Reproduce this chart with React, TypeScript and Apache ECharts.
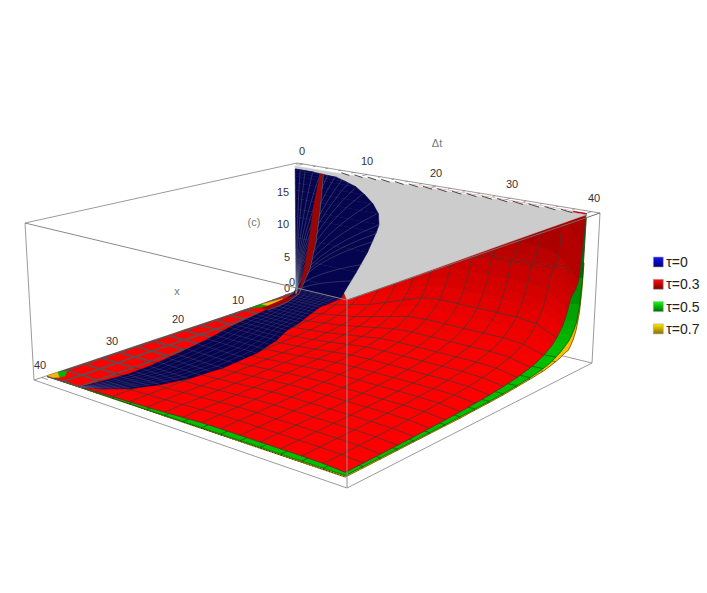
import React, { useEffect, useRef } from "react";
import * as echarts from "echarts";

type P3 = number[];
type Prim = { pts: P3[]; fill?: string; stroke?: string; width?: number; dash?: number[] };

// ---- values ----
const meshT = [0, 2.5, 5, 7.5, 10, 12.5, 15, 17.5, 20, 22.5, 25, 27.5, 30, 32.5, 35, 37.5, 40];
const gridX = [0.05, 0.2, 0.5, 1, 1.5, 2, 2.5, 3, 3.5, 4, 5, 6, 7.5, 8.75, 10, 12.5, 15, 17.5, 20, 22.5, 25, 27.5, 30, 32.5, 35, 37.5, 40];

const redFactor = [0.02, 0.05, 0.1, 0.2, 0.3, 0.4, 0.5, 0.65, 0.8, 0.95, 1, 1, 1, 1, 1, 0.95, 0.75];
const redProfile = [35, 25.5, 20, 14.5, 13.2, 12.6, 12, 10, 8.6, 7.5, 6, 5, 4, 3.4, 3, 2.4, 2, 1.7, 1.5, 1.33, 1.2, 1.09, 1, 0.92, 0.86, 0.8, 0.75];
const greenFactor = [0, 0.06, 0.12, 0.19, 0.25, 0.31, 0.37, 0.44, 0.5, 0.56, 0.62, 0.69, 0.75, 0.81, 0.87, 0.94, 1];
const greenProfile = [19, 11, 7.5, 5.4, 4.5, 3.8, 3.3, 3, 2.7, 2.4, 2, 1.6, 1.3, 1.1, 0.95, 0.75, 0.6, 0.5, 0.43, 0.38, 0.33, 0.3, 0.27, 0.25, 0.23, 0.21, 0.2];
const yellowFactor = greenFactor;
const yellowProfile = [13, 9.5, 6.5, 4.4, 3.3, 2.6, 2.1, 2, 1.85, 1.65, 1.4, 1.2, 0.95, 0.85, 0.75, 0.6, 0.45, 0.36, 0.3, 0.22, 0.2, 0.18, 0.15, 0.12, 0.09, 0.07, 0.05];

// blue surface: near border and far border, from x=40 along the floor and up the wall
const blueOuterT = [5, 7.2, 9.3, 10.8, 11.8, 12.2, 11.7, 10.4, 8.9, 8.1, 7, 6, 6.2, 7.2, 8, 9.6, 11.3, 12.6, 13, 12.9, 12.1, 10.9, 9.5, 8, 6.6, 3, 0];
const blueInnerT = [5, 5.2, 5.5, 5.9, 5.8, 5.2, 4.2, 3.1, 2.5, 2, 1.3, 0.5, 0.1, 0, 0, 0, 0, 0, 0, 0, 0, 0, 0, 0, 0, 0, 0];
const blueX = [40, 38.8, 37, 34.2, 31, 26.4, 20.5, 15.8, 12.3, 9.1, 6, 3, 1, 0.5, 0.5, 0.5, 0.5, 0.5, 0.5, 0.5, 0.5, 0.5, 0.5, 0.5, 0.5, 0.5, 0.5];
const blueZ = [0, 0, 0, 0, 0, 0, 0, 0, 0, 0, 0, 0, 0.2, 0.9, 2.4, 5.3, 8.6, 11.8, 13, 14.6, 15.9, 17, 18, 18.5, 18.9, 19.1, 19.1];
const BAND_END = 13;
const blueFanT = [0.8, 1.6, 2.8, 4, 5.2, 6.3, 7.4, 8.4, 9.4, 10.4, 11.7, 12.6, 13, 12.7, 12.2, 10.6, 9];
const blueFanZ = [19, 19, 19, 19, 19, 18.9, 18.7, 18.4, 17.8, 17, 15.9, 14.5, 13, 11.7, 10.4, 6.7, 3.9];

// dark red sliver on the blue wall
const sliverLeftT = [1, 0.7, 0.4, 1.4, 2.2, 2.9, 4];
const sliverRightT = [2, 1.6, 0.4, 2.2, 3.2, 3.9, 4.4];
const sliverX = [8, 4, 0.5, 0.5, 0.5, 0.5, 0.5];
const sliverZ = [0.05, 0.05, 0.1, 4.3, 8.6, 13.8, 19];

// wavy mesh line at x=2.5
const wavyT = [27.2, 28.8, 29.5, 30.1, 30.8, 31.4, 32, 32.7, 33.2, 34.2, 35.1, 35.9, 36.8, 37.4, 37.8, 39, 39.6, 40];
const wavyZ = [11.6, 12, 12.5, 12.9, 12.1, 12.6, 12.1, 12.5, 12.2, 12.8, 12.1, 12.9, 12.3, 13.1, 12.5, 13.1, 12.4, 12.3];

const hatchT = [7, 9, 11, 13, 15, 17, 19, 21, 23, 25, 27, 29, 31, 33, 35, 37];

const tMinor = [0, 2, 4, 6, 8, 10, 12, 14, 16, 18, 20, 22, 24, 26, 28, 30, 32, 34, 36, 38, 40];
const xMajor = [0, 10, 20, 30, 40];

const legendNames = ["τ=0", "τ=0.3", "τ=0.5", "τ=0.7"];
const legendTop = ["#1414ff", "#ff1010", "#10ff10", "#ffe800"];
const legendBottom = ["#00006a", "#7a0000", "#006a00", "#8a6a00"];

const tLabels = ["0", "10", "20", "30", "40"];
const tLabelX = [302, 367, 436, 512, 594];
const tLabelY = [151, 161, 173, 184, 198];
const xLabels = ["0", "10", "20", "30", "40"];
const xLabelX = [287, 238, 178, 112, 40];
const xLabelY = [288, 300, 319, 341, 365];
const zLabels = ["0", "5", "10", "15"];
const zLabelX = [292, 287, 283, 283];
const zLabelY = [282, 257, 224, 192];

// ---- camera: box corners on the page ----
const T_LO = -1, T_HI = 41, X_LO = -1, X_HI = 41, Z_LO = -0.4, Z_HI = 19.6;
const floorQuad = [[298, 292], [592, 363], [347, 488], [34, 380]];
const roofQuad = [[297, 163], [600, 213], [347, 300], [25, 223]];

function homography(q: number[][]) {
  const [[x0, y0], [x1, y1], [x2, y2], [x3, y3]] = q;
  const sx = x0 - x1 + x2 - x3, sy = y0 - y1 + y2 - y3;
  const dx1 = x1 - x2, dx2 = x3 - x2, dy1 = y1 - y2, dy2 = y3 - y2;
  const den = dx1 * dy2 - dx2 * dy1;
  const g = (sx * dy2 - dx2 * sy) / den, h = (dx1 * sy - sx * dy1) / den;
  const a = x1 - x0 + g * x1, b = x3 - x0 + h * x3, d = y1 - y0 + g * y1, e = y3 - y0 + h * y3;
  return (u: number, v: number) => {
    const w = g * u + h * v + 1;
    return [(a * u + b * v + x0) / w, (d * u + e * v + y0) / w];
  };
}
const floorH = homography(floorQuad);
const roofH = homography(roofQuad);
function project(p: P3) {
  const u = (p[0] - T_LO) / (T_HI - T_LO), v = (p[1] - X_LO) / (X_HI - X_LO);
  const w = (Math.min(p[2], Z_HI) - Z_LO) / (Z_HI - Z_LO);
  const a = floorH(u, v), b = roofH(u, v);
  return [a[0] + (b[0] - a[0]) * w, a[1] + (b[1] - a[1]) * w];
}

// ---- primitives ----
function mix(lo: number[], hi: number[], z: number) {
  const f = Math.max(0, Math.min(1, (z - 2) / 14));
  return `rgb(${lo.map((c, i) => Math.round(c + (hi[i] - c) * f)).join(",")})`;
}
function surface(factor: number[], profile: number[], lo: number[], hi: number[], meshColor: string, thick: boolean) {
  const zAt = (i: number, j: number) => Math.min(factor[i] * profile[j], Z_HI);
  const prims: Prim[] = [];
  const thickColor = "rgba(95,80,80,0.9)";
  for (let i = 0; i < meshT.length - 1; i++) {
    for (let j = 0; j < gridX.length - 1; j++) {
      const c = mix(lo, hi, (zAt(i, j) + zAt(i + 1, j) + zAt(i, j + 1) + zAt(i + 1, j + 1)) / 4);
      prims.push({
        pts: [
          [meshT[i], gridX[j], zAt(i, j)],
          [meshT[i + 1], gridX[j], zAt(i + 1, j)],
          [meshT[i + 1], gridX[j + 1], zAt(i + 1, j + 1)],
          [meshT[i], gridX[j + 1], zAt(i, j + 1)],
        ],
        fill: c,
      });
    }
  }
  meshT.forEach((t, i) => {
    const heavy = thick && t <= 5;
    prims.push({
      pts: gridX.map((x, j) => [t, x, zAt(i, j)]),
      stroke: heavy ? thickColor : meshColor,
      width: heavy ? 1.8 : 0.8,
    });
  });
  gridX.forEach((x, j) => {
    if (x < 2.5 || x % 2.5 !== 0) return;
    const upto = x === 2.5 ? 11 : meshT.length - 1;
    prims.push({ pts: meshT.slice(0, upto + 1).map((t, i) => [t, x, zAt(i, j)]), stroke: meshColor, width: 0.8 });
    if (thick) prims.push({ pts: meshT.slice(0, 3).map((t, i) => [t, x, zAt(i, j)]), stroke: thickColor, width: 1.8 });
  });
  return prims;
}

const E = "rgba(60,55,55,0.85)";
const yellowPrims = surface(yellowFactor, yellowProfile, [255, 190, 0], [225, 155, 0], "rgba(70,50,0,0.8)", false);
yellowPrims.push({ pts: meshT.map((t, i) => [t, 40, yellowFactor[i] * 0.05]), stroke: "#3a2a00", width: 1, dash: [1, 2] });
const greenPrims = surface(greenFactor, greenProfile, [0, 190, 0], [0, 100, 0], "rgba(0,60,0,0.7)", false);
const redPrims = surface(redFactor, redProfile, [255, 0, 0], [172, 0, 0], E, true);
redPrims.push({ pts: wavyT.map((t, i) => [t, 2.5, wavyZ[i]]), stroke: E, width: 0.8 });

const patchPrims: Prim[] = [
  { pts: [[0, 40, 0.1], [0, 38.6, 0.1], [1.33, 39.5, 0.1], [0.9, 40, 0.1]], fill: "#f5b800" },
  { pts: [[0, 38.6, 0.1], [0.46, 37.8, 0.1], [1.5, 38.9, 0.1], [1.33, 39.5, 0.1]], fill: "#00b800" },
  { pts: [[0, 7, 0.1], [0.4, 3.5, 0.1], [1.1, 7, 0.1]], fill: "#f5b800" },
  { pts: [[0, 9, 0.1], [0, 7, 0.1], [1.1, 7, 0.1]], fill: "#00a000" },
];

const grayPrims: Prim[] = [
  { pts: [[0, 0, Z_HI], [38.4, 0, Z_HI], [38.4, 0.7, Z_HI], [0, 0.7, Z_HI]], fill: "#ffffff" },
  { pts: [[0, 0.6, Z_HI], [40.3, 0.6, Z_HI], [T_HI, X_HI, Z_HI]], fill: "#cccccc" },
  ...hatchT.map((t) => ({ pts: [[t, 0.15, Z_HI], [t + 1.7, 0.75, Z_HI]], stroke: "#333333", width: 0.9 })),
];

const bluePrims: Prim[] = [];
const blueOut = (s: number): P3 => [blueOuterT[s], blueX[s], blueZ[s]];
const blueIn = (s: number): P3 => [blueInnerT[s], blueX[s], blueZ[s]];
const lerp3 = (a: P3, b: P3, f: number): P3 => a.map((c, i) => c + (b[i] - c) * f);
const BL = "rgba(125,125,165,0.42)";
for (let s = 0; s < blueZ.length - 1; s++) {
  bluePrims.push({ pts: [blueIn(s), blueOut(s), blueOut(s + 1), blueIn(s + 1)], fill: "#04044f" });
}
for (let s = 1; s <= BAND_END; s++) {
  for (let m = 0; m < 3; m++) {
    const f = m / 3;
    bluePrims.push({ pts: [lerp3(blueIn(s - 1), blueIn(s), f), lerp3(blueOut(s - 1), blueOut(s), f)], stroke: BL, width: 0.5 });
  }
}
for (let k = 1; k < 8; k++) {
  const line: P3[] = [];
  for (let s = 0; s <= BAND_END; s++) line.push(lerp3(blueIn(s), blueOut(s), k / 8));
  bluePrims.push({ pts: line, stroke: BL, width: 0.5 });
}
blueFanT.forEach((te, i) => {
  const line: P3[] = [];
  for (let n = 0; n <= 8; n++) {
    const p = n / 8;
    line.push([te * Math.pow(p, 1.7), 0.5, blueFanZ[i] * p]);
  }
  bluePrims.push({ pts: line, stroke: "rgba(125,125,135,0.5)", width: 0.7 });
});

const sliverPrims: Prim[] = [];
for (let s = 0; s < sliverX.length - 1; s++) {
  sliverPrims.push({
    pts: [
      [sliverLeftT[s], sliverX[s], sliverZ[s]],
      [sliverRightT[s], sliverX[s], sliverZ[s]],
      [sliverRightT[s + 1], sliverX[s + 1], sliverZ[s + 1]],
      [sliverLeftT[s + 1], sliverX[s + 1], sliverZ[s + 1]],
    ],
    fill: "#9a0606",
  });
}
sliverPrims.push({ pts: sliverRightT.map((t, s) => [t + 0.1, sliverX[s], sliverZ[s]]), stroke: "rgba(120,120,120,0.7)", width: 0.8 });

const BOX = "#8f8f8f";
const edge = (a: P3, b: P3, c = BOX, width = 0.9): Prim => ({ pts: [a, b], stroke: c, width });
const backPrims: Prim[] = [
  edge([T_LO, X_LO, Z_LO], [T_LO, X_LO, Z_HI]),
  edge([T_HI, X_LO, Z_LO], [T_HI, X_LO, Z_HI]),
  edge([T_LO, X_HI, Z_LO], [T_LO, X_HI, Z_HI]),
  edge([T_LO, X_LO, Z_LO], [T_HI, X_LO, Z_LO]),
  edge([T_LO, X_LO, Z_LO], [T_LO, X_HI, Z_LO]),
  ...xMajor.map((x) => edge([T_LO, x, Z_LO], [0, x, Z_LO], "#777", 0.7)),
];
const frontPrims: Prim[] = [
  edge([T_LO, X_LO, Z_HI], [T_HI, X_LO, Z_HI]),
  edge([T_LO, X_LO, Z_HI], [T_LO, X_HI, Z_HI]),
  ...tMinor.map((t) => edge([t, X_LO, Z_HI], [t, t % 10 === 0 ? -0.1 : -0.5, Z_HI], "#777", 0.7)),
  edge([T_HI, X_HI, Z_HI], [T_HI, X_LO, Z_HI], "#6f6f6f", 1),
  edge([T_HI, X_HI, Z_HI], [T_LO, X_HI, Z_HI], "#8a8a8a", 1),
  edge([T_HI, X_HI, Z_LO], [T_HI, X_HI, Z_HI], "#8f8f8f", 1),
  edge([T_HI, X_HI, Z_LO], [T_HI, X_LO, Z_LO]),
  edge([T_HI, X_HI, Z_LO], [T_LO, X_HI, Z_LO]),
];

function seriesOf(name: string, prims: Prim[]) {
  return {
    type: "custom",
    name,
    coordinateSystem: "cartesian2d",
    clip: false,
    silent: true,
    progressive: 0,
    data: prims.map((_, k) => [k, 0]),
    renderItem: (_p: any, api: any) => {
      const prim = prims[api.value(0)];
      const points = prim.pts.map((q) => api.coord(project(q)));
      if (prim.fill) {
        return {
          type: "polygon",
          shape: { points },
          style: { fill: prim.fill, stroke: prim.fill, lineWidth: 0.5 },
        };
      }
      return {
        type: "polyline",
        shape: { points },
        style: { fill: "none", stroke: prim.stroke, lineWidth: prim.width, lineDash: prim.dash },
      };
    },
  };
}

const FONT = "'Liberation Sans', Arial, sans-serif";
function label(text: string, x: number, y: number, fill = "#333333", size = 11) {
  return {
    type: "text",
    x,
    y,
    silent: true,
    style: { text, fill, font: `${size}px ${FONT}`, textAlign: "center", textVerticalAlign: "middle" },
  };
}

export default function App() {
  const ref = useRef<HTMLDivElement>(null);
  useEffect(() => {
    const chart = echarts.init(ref.current!, undefined, { renderer: "svg" });
    chart.setOption({
      animation: false,
      backgroundColor: "#ffffff",
      grid: { left: 0, right: 0, top: 0, bottom: 0 },
      xAxis: { type: "value", min: 0, max: 707, show: false },
      yAxis: { type: "value", min: 0, max: 593, inverse: true, show: false },
      legend: {
        orient: "vertical",
        left: 648,
        top: 250,
        itemWidth: 10,
        itemHeight: 10,
        itemGap: 8.3,
        textStyle: { fontFamily: FONT, fontSize: 14, color: "#222", padding: [0, 0, 0, -2] },
        selectedMode: false,
        data: legendNames.map((name, i) => ({
          name,
          icon: "rect",
          itemStyle: {
            color: new echarts.graphic.LinearGradient(0, 0, 0, 1, [
              { offset: 0, color: legendTop[i] },
              { offset: 1, color: legendBottom[i] },
            ]),
            borderColor: "#aaa",
            borderWidth: 0.6,
          },
        })),
      },
      series: [
        seriesOf("frame back", backPrims),
        seriesOf("τ=0.7", yellowPrims),
        seriesOf("τ=0.5", greenPrims),
        seriesOf("τ=0.3", redPrims),
        seriesOf("patches", patchPrims),
        seriesOf("clipped", grayPrims),
        seriesOf("τ=0", bluePrims),
        seriesOf("wall", sliverPrims),
        seriesOf("frame front", frontPrims),
      ],
      graphic: {
        elements: [
          ...tLabels.map((s, i) => label(s, tLabelX[i], tLabelY[i])),
          ...xLabels.map((s, i) => label(s, xLabelX[i], xLabelY[i])),
          ...zLabels.map((s, i) => label(s, zLabelX[i], zLabelY[i])),
          label("Δt", 437, 143, "#777777"),
          label("x", 177, 291, "#777777"),
          label("(c)", 254, 222, "#777777"),
        ],
      },
    });
    return () => chart.dispose();
  }, []);
  return <div ref={ref} style={{ position: "fixed", left: 0, top: 0, width: 707, height: 593 }} />;
}
